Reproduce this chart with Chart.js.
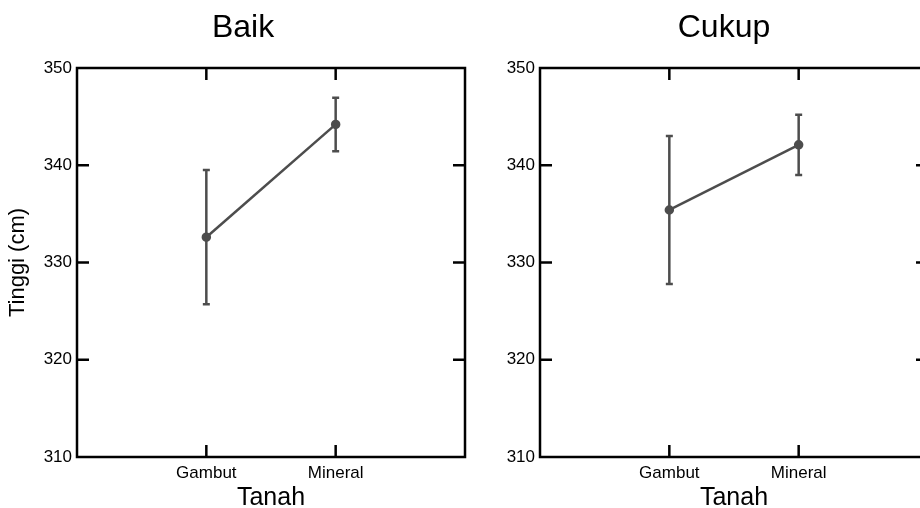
<!DOCTYPE html>
<html lang="id">
<head>
  <meta charset="UTF-8"/>
  <title>Tinggi – Tanah</title>
  <script src="https://cdn.jsdelivr.net/npm/chart.js"></script>
  <style>
    html, body { margin: 0; padding: 0; background: #fff; overflow: hidden; }
    body { width: 920px; height: 508px; position: relative; }
    .panel { position: absolute; top: 0; width: 480px; height: 508px; }
  </style>
</head>
<body>
  <div class="panel" style="left:0"><canvas id="baikChart"></canvas></div>
  <div class="panel" style="left:463px"><canvas id="cukupChart"></canvas></div>
  <script>
    const tanah = ["Gambut", "Mineral"];
    const yTicks = [310, 320, 330, 340, 350];

    // mean and error (half-length of bar)
    const baikMean = [332.6, 344.2];
    const baikErr = [6.9, 2.75];
    const cukupMean = [335.4, 342.1];
    const cukupErr = [7.6, 3.1];

    const LINE = "#4d4d4d";
    const FONT = "'Liberation Sans', Arial, Helvetica, sans-serif";

    // box frame + inward ticks, like the original plot
    const framePlugin = {
      id: "frame",
      afterLayout(chart) {
        // let the y labels use the whole left margin (the title padding eats into it)
        chart.scales.y.left = 0;
      },
      afterDraw(chart) {
        const { ctx, chartArea: a, scales } = chart;
        const len = 12;
        ctx.save();
        ctx.strokeStyle = "#000";
        ctx.lineWidth = 2.5;
        ctx.beginPath();
        yTicks.slice(1, -1).forEach(v => {
          const y = scales.y.getPixelForValue(v);
          ctx.moveTo(a.left, y); ctx.lineTo(a.left + len, y);
          ctx.moveTo(a.right, y); ctx.lineTo(a.right - len, y);
        });
        tanah.forEach((t, i) => {
          const x = scales.x.getPixelForValue(i + 1);
          ctx.moveTo(x, a.bottom); ctx.lineTo(x, a.bottom - len);
          ctx.moveTo(x, a.top); ctx.lineTo(x, a.top + len);
        });
        ctx.stroke();
        ctx.strokeRect(a.left, a.top, a.right - a.left, a.bottom - a.top);
        ctx.restore();
      }
    };

    const errorBarPlugin = {
      id: "errorBars",
      afterDatasetsDraw(chart) {
        const { ctx, scales } = chart;
        const errs = chart.options.plugins.errorBars.errors;
        const ds = chart.data.datasets[0];
        ctx.save();
        ctx.strokeStyle = LINE;
        ctx.lineWidth = 2.5;
        ds.data.forEach((p, i) => {
          const x = scales.x.getPixelForValue(p.x);
          const yHi = scales.y.getPixelForValue(p.y + errs[i]);
          const yLo = scales.y.getPixelForValue(p.y - errs[i]);
          ctx.beginPath();
          ctx.moveTo(x, yHi); ctx.lineTo(x, yLo);
          ctx.moveTo(x - 3.5, yHi); ctx.lineTo(x + 3.5, yHi);
          ctx.moveTo(x - 3.5, yLo); ctx.lineTo(x + 3.5, yLo);
          ctx.stroke();
        });
        ctx.restore();
      }
    };

    // padLeft moves the panel title; the plot box stays at local x 77..465
    function makePanel(id, title, means, errs, showYTitle, padLeft) {
      new Chart(document.getElementById(id), {
        type: "line",
        data: {
          datasets: [{
            data: means.map((m, i) => ({ x: i + 1, y: m })),
            borderColor: LINE,
            backgroundColor: LINE,
            borderWidth: 2.5,
            pointRadius: 3.5,
            pointHoverRadius: 3.5,
            tension: 0
          }]
        },
        options: {
          responsive: true,
          maintainAspectRatio: false,
          animation: false,
          layout: { padding: { left: padLeft, right: 15, top: 0, bottom: 0 } },
          plugins: {
            legend: { display: false },
            tooltip: { enabled: false },
            title: {
              display: true,
              text: title,
              color: "#000",
              font: { family: FONT, size: 32, weight: "normal", lineHeight: 1.2 },
              padding: { top: 8.5, bottom: 21.1 }
            },
            errorBars: { errors: errs }
          },
          scales: {
            x: {
              type: "linear",
              min: 0,
              max: 3,
              afterBuildTicks: s => { s.ticks = tanah.map((t, i) => ({ value: i + 1 })); },
              afterFit: s => { s.height = 51; },
              grid: { display: false, drawTicks: false },
              border: { display: false },
              ticks: {
                color: "#000",
                padding: 6,
                maxRotation: 0,
                font: { family: FONT, size: 17 },
                callback: v => tanah[Math.round(v) - 1]
              },
              title: {
                display: true,
                text: "Tanah",
                color: "#000",
                font: { family: FONT, size: 25, lineHeight: 0.8 },
                padding: { top: 0, bottom: 0 }
              }
            },
            y: {
              min: 310,
              max: 350,
              afterBuildTicks: s => { s.ticks = yTicks.map(v => ({ value: v })); },
              afterFit: s => { s.width = 77 - padLeft; },
              grid: { display: false, drawTicks: false },
              border: { display: false },
              ticks: {
                color: "#000",
                padding: 5,
                font: { family: FONT, size: 17 }
              },
              title: {
                display: showYTitle,
                text: "Tinggi (cm)",
                color: "#000",
                font: { family: FONT, size: 22, lineHeight: 1 },
                padding: { top: 7, bottom: 0 }
              }
            }
          }
        },
        plugins: [framePlugin, errorBarPlugin]
      });
    }

    makePanel("baikChart", "Baik", baikMean, baikErr, true, 21);
    makePanel("cukupChart", "Cukup", cukupMean, cukupErr, false, 57);
  </script>
</body>
</html>
